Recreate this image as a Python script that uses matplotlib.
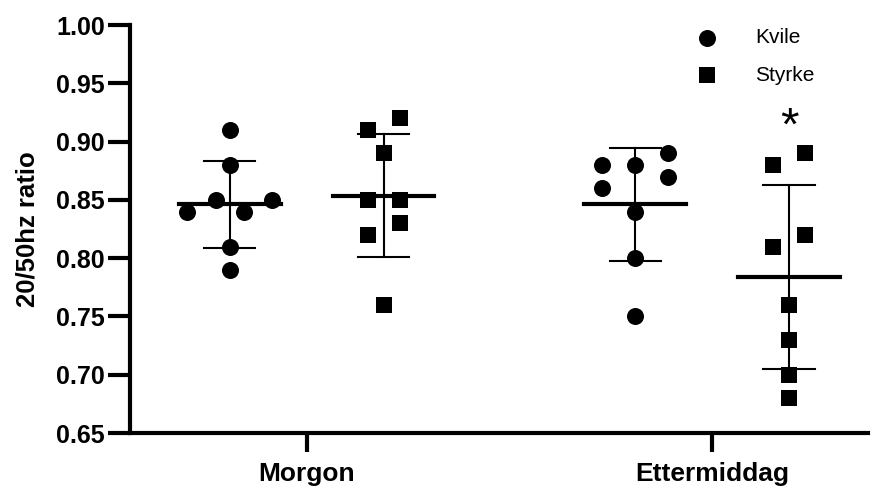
import numpy as np
import matplotlib.pyplot as plt

plt.rcParams['font.family'] = ['Liberation Sans', 'DejaVu Sans']

# values
groups = ['Morgon', 'Ettermiddag']
kvile_morgon = [0.91, 0.88, 0.85, 0.85, 0.84, 0.84, 0.81, 0.79]
styrke_morgon = [0.92, 0.91, 0.89, 0.85, 0.85, 0.83, 0.82, 0.76]
kvile_ettermiddag = [0.89, 0.88, 0.88, 0.87, 0.86, 0.84, 0.80, 0.75]
styrke_ettermiddag = [0.89, 0.88, 0.82, 0.81, 0.76, 0.73, 0.70, 0.68]

# column within each scatter cloud (negative = left, positive = right)
col_kvile_morgon = [0, 0, -0.5, 1.5, -1.5, 0.5, 0, 0]
col_styrke_morgon = [0.57, -0.57, 0, -0.57, 0.57, 0.57, -0.57, 0]
col_kvile_ettermiddag = [1.15, -1.15, 0, 1.15, -1.15, 0, 0, 0]
col_styrke_ettermiddag = [0.57, -0.57, 0.57, -0.57, 0, 0, 0, 0]

series = [
    ('Kvile', 'o', [kvile_morgon, kvile_ettermiddag], [col_kvile_morgon, col_kvile_ettermiddag], -0.19),
    ('Styrke', 's', [styrke_morgon, styrke_ettermiddag], [col_styrke_morgon, col_styrke_ettermiddag], 0.19),
]

fig = plt.figure(figsize=(8.83, 4.86), dpi=100)
ax = fig.add_axes([0.147, 0.109, 0.836, 0.8395])

step = 0.07
for name, marker, data, cols, offset in series:
    for gi, (vals, col) in enumerate(zip(data, cols)):
        x0 = gi + offset
        xs = x0 + np.array(col) * step
        ax.scatter(xs, vals, marker=marker, s=150 if marker == 'o' else 130,
                   color='black', zorder=3, linewidths=0,
                   label=name if gi == 0 else None)
        m = np.mean(vals)
        sd = np.std(vals, ddof=1)
        ax.plot([x0 - 0.125, x0 + 0.125], [m, m], color='black', lw=3, zorder=4)
        ax.plot([x0, x0], [m - sd, m + sd], color='black', lw=1.5, zorder=2)
        for y in (m - sd, m + sd):
            ax.plot([x0 - 0.063, x0 + 0.063], [y, y], color='black', lw=1.5, zorder=2)

# significance mark
ax.text(1 + 0.19, 0.912, '*', ha='center', va='center', fontsize=34)

ax.set_xlim(-0.437, 1.385)
ax.set_ylim(0.65, 1.00)
ax.set_xticks(range(len(groups)))
ax.set_xticklabels(groups, fontsize=19, fontweight='bold')
yticks = np.arange(0.65, 1.001, 0.05)
ax.set_yticks(yticks)
ax.set_yticklabels([f'{v:.2f}' for v in yticks], fontsize=18, fontweight='bold')
ax.set_ylabel('20/50hz ratio', fontsize=18.5, fontweight='bold', labelpad=12)
ax.tick_params(axis='y', width=3, length=16, direction='out', pad=2)
ax.tick_params(axis='x', width=3, length=14, direction='out', pad=7)

for side in ('top', 'right'):
    ax.spines[side].set_visible(False)
for side in ('left', 'bottom'):
    ax.spines[side].set_linewidth(3)

ax.legend(loc='upper left', frameon=False, fontsize=15, handletextpad=1.3,
          labelspacing=0.9, borderpad=0, bbox_to_anchor=(0.74, 1.018))

fig.savefig('out.png', dpi=100)
